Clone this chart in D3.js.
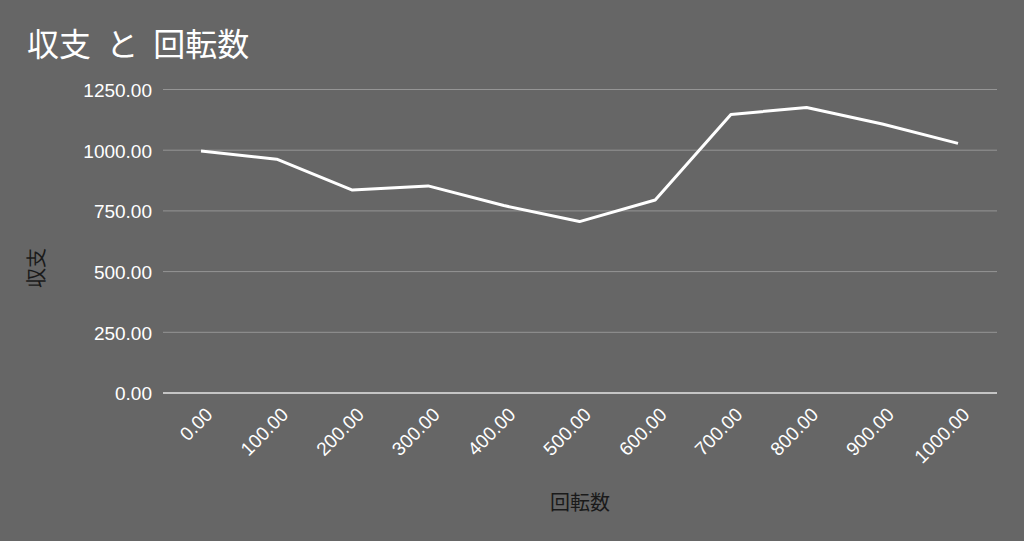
<!DOCTYPE html>
<html><head><meta charset="utf-8">
<script src="https://cdn.jsdelivr.net/npm/d3@7"></script>
<style>
html,body{margin:0;padding:0;background:#666666;}
svg{display:block;font-family:"Liberation Sans","Noto Sans CJK JP",sans-serif;}
</style></head>
<body>
<svg id="c" width="1024" height="541"></svg>
<script>
const xValues = [0,100,200,300,400,500,600,700,800,900,1000];
const yValues = [997,963,836,853,772,706,795,1147,1176,1108,1028];
const yTicks = [0,250,500,750,1000,1250];
const title = "収支 と 回転数";
const xTitle = "回転数";
const yTitle = "収支";

const svg = d3.select("#c");
svg.append("rect").attr("width",1024).attr("height",541).attr("fill","#666666");

const plotLeft = 163, plotRight = 997;
const x = d3.scaleLinear().domain([0,1000]).range([201,958]);
const y = d3.scaleLinear().domain([0,1250]).range([393,89.5]);

// gridlines
svg.append("g").selectAll("line").data(yTicks.filter(d=>d>0)).join("line")
  .attr("x1",plotLeft).attr("x2",plotRight)
  .attr("y1",d=>y(d)).attr("y2",d=>y(d))
  .attr("stroke","#959595").attr("stroke-width",1);
// zero line
svg.append("line").attr("x1",plotLeft).attr("x2",plotRight)
  .attr("y1",y(0)).attr("y2",y(0)).attr("stroke","#e6e6e6").attr("stroke-width",1.5);

// y axis labels
const yAxis = d3.axisLeft(y).tickValues(yTicks).tickSize(0).tickPadding(0).tickFormat(d3.format(".2f"));
const gy = svg.append("g").attr("transform","translate(152,0)").call(yAxis);
gy.select(".domain").remove();
gy.selectAll("text").attr("fill","#ffffff").style("font-size","19px").attr("dy","0.36em");

// x axis labels
const xAxis = d3.axisBottom(x).tickValues(xValues).tickSize(0).tickPadding(0).tickFormat(d3.format(".2f"));
const gx = svg.append("g").call(xAxis);
gx.select(".domain").remove();
gx.selectAll(".tick").attr("transform",d=>`translate(${x(d)+8},411)`);
gx.selectAll("text").attr("fill","#ffffff").style("font-size","19px")
  .attr("y",0).attr("dy","0.36em").attr("text-anchor","end").attr("transform","rotate(-45)");

// line
const line = d3.line().x((d,i)=>x(xValues[i])).y(d=>y(d));
svg.append("path").datum(yValues).attr("d",line)
  .attr("fill","none").attr("stroke","#ffffff").attr("stroke-width",3).attr("stroke-linejoin","round");

// titles
svg.append("text").attr("x",27).attr("y",56).text(title)
  .attr("fill","#ffffff").style("font-size","32px").style("word-spacing","8px")
  .style("font-family","'Noto Sans CJK JP',sans-serif");
svg.append("text").attr("x",580).attr("y",510).attr("text-anchor","middle").text(xTitle)
  .attr("fill","#1a1a1a").style("font-size","20px").style("font-family","'Noto Sans CJK JP',sans-serif");
svg.append("text").attr("transform","translate(44,268) rotate(-90)").attr("text-anchor","middle").text(yTitle)
  .attr("fill","#1a1a1a").style("font-size","20px").style("font-family","'Noto Sans CJK JP',sans-serif");
</script>
</body></html>
